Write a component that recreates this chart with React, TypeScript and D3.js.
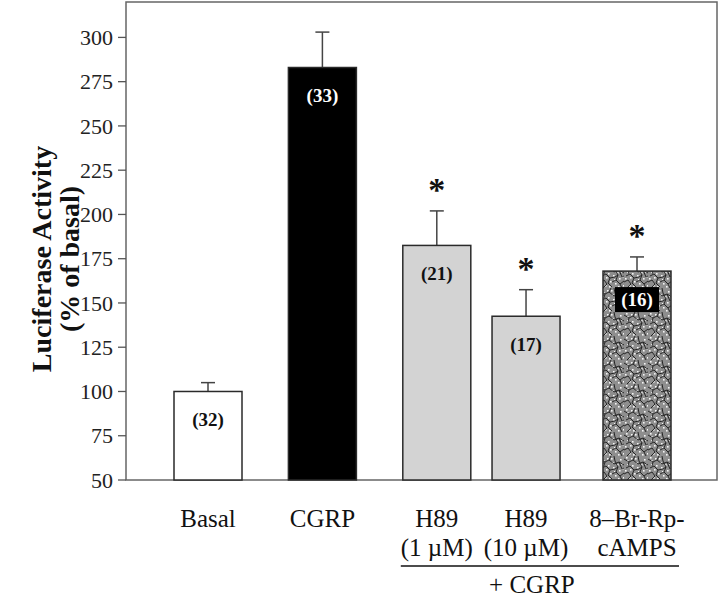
import React from 'react';
import * as d3 from 'd3';

// ---- data ----
const categoryLines: string[][] = [
  ['Basal'],
  ['CGRP'],
  ['H89', '(1 \u00B5M)'],
  ['H89', '(10 \u00B5M)'],
  ['8\u2013Br-Rp-', 'cAMPS'],
];
const means = [100, 283, 182.5, 142.5, 168];
const errors = [5, 20, 19.5, 15, 8];
const nCounts = [32, 33, 21, 17, 16];
const significant = [false, false, true, true, true];
const yTicks = [50, 75, 100, 125, 150, 175, 200, 225, 250, 275, 300];
const yLabelLines = ['Luciferase Activity', '(% of basal)'];
const groupLabel = '+ CGRP';
const groupMembers = [2, 3, 4];

// ---- layout ----
const W = 720;
const H = 597;
const slots = [0, 1, 2, 2.78, 3.75];
const fills = ['#ffffff', '#000000', '#d3d3d3', '#d3d3d3', 'url(#crackle)'];
const barW = 68;
const serif = '"Liberation Serif", "Times New Roman", Times, serif';

export default function App() {
  const y = d3.scaleLinear().domain([50, 320]).range([480, 2]);
  const x = d3.scaleLinear().domain([0, 3.75]).range([208, 637]);
  const left = 126;
  const right = 717;

  const crackPaths = [
    'M0,3 L5,6 L9,4 L14,8 L19,6 L24,9',
    'M2,12 L6,10 L10,14 L8,19 L12,23',
    'M14,0 L15,5 L18,11 L16,16 L20,20 L22,24',
    'M0,18 L4,16 L7,20 L3,24',
    'M10,14 L15,13 L18,11',
    'M20,20 L24,17',
    'M5,6 L4,10',
    'M16,16 L12,18',
    'M9,4 L11,0',
    'M19,6 L22,13 L24,12',
  ];
  const specks: [number, number][] = [
    [2, 1], [7, 2], [11, 2], [20, 3], [3, 8], [12, 6], [17, 8], [22, 12],
    [1, 14], [6, 13], [13, 11], [19, 14], [10, 17], [15, 19], [5, 21],
    [18, 22], [23, 21], [9, 22], [3, 4], [21, 7], [14, 15], [8, 9],
  ];

  const groupX0 = x(slots[groupMembers[0]]) - barW / 2 - 2;
  const groupX1 = x(slots[groupMembers[groupMembers.length - 1]]) + barW / 2 + 8;

  return (
    <svg
      width={W}
      height={H}
      style={{ position: 'absolute', left: 0, top: 0, background: '#fff' }}
      fontFamily={serif}
    >
      <defs>
        <pattern id="crackle" width={24} height={24} patternUnits="userSpaceOnUse">
          <rect width={24} height={24} fill="#8e8e8e" />
          {specks.map(([sx, sy], i) => (
            <rect key={i} x={sx} y={sy} width={1.6} height={1.6} fill="#f4f4f4" />
          ))}
          {crackPaths.map((d, i) => (
            <path key={i} d={d} fill="none" stroke="#1a1a1a" strokeWidth={0.9} />
          ))}
        </pattern>
      </defs>

      {/* frame */}
      <rect x={left} y={y(320)} width={right - left} height={y(50) - y(320)} fill="none" stroke="#666" strokeWidth={1.5} />

      {/* y ticks */}
      {yTicks.map((t) => (
        <g key={t}>
          <line x1={left - 8} x2={left} y1={y(t)} y2={y(t)} stroke="#555" strokeWidth={1.3} />
          <text x={left - 13} y={y(t)} dy="0.35em" textAnchor="end" fontSize={22} fill="#222">
            {t}
          </text>
        </g>
      ))}

      {/* y label */}
      <g transform={`translate(0, 259) rotate(-90)`}>
        {yLabelLines.map((l, i) => (
          <text key={l} x={0} y={51 + i * 28} textAnchor="middle" fontSize={28} fontWeight="bold" fill="#111">
            {l}
          </text>
        ))}
      </g>

      {/* bars */}
      {means.map((m, i) => {
        const cx = x(slots[i]);
        const top = y(m);
        const errTop = y(m + errors[i]);
        return (
          <g key={i}>
            <line x1={cx} x2={cx} y1={top} y2={errTop} stroke="#444" strokeWidth={1.5} />
            <line x1={cx - 7} x2={cx + 7} y1={errTop} y2={errTop} stroke="#444" strokeWidth={1.5} />
            <rect x={cx - barW / 2} y={top} width={barW} height={y(50) - top} fill={fills[i]} stroke="#2a2a2a" strokeWidth={1.5} />
            {i === 4 && (
              <rect x={cx - 22} y={top + 16} width={44} height={25} fill="#000" />
            )}
            <text
              x={cx}
              y={top + 28}
              dy="0.35em"
              textAnchor="middle"
              fontSize={19}
              fontWeight="bold"
              fill={i === 1 || i === 4 ? '#fff' : '#111'}
            >
              ({nCounts[i]})
            </text>
            {significant[i] && (
              <text x={cx} y={errTop - 10} textAnchor="middle" fontSize={34} fontWeight="bold" fill="#111">
                *
              </text>
            )}
            {categoryLines[i].map((l, j) => (
              <text key={j} x={cx} y={527 + j * 29} textAnchor="middle" fontSize={25} fill="#111">
                {l}
              </text>
            ))}
          </g>
        );
      })}

      {/* group underline */}
      <line x1={groupX0} x2={groupX1} y1={566} y2={566} stroke="#111" strokeWidth={1.5} />
      <text x={(groupX0 + groupX1) / 2 - 8} y={593} textAnchor="middle" fontSize={25} fill="#111">
        {groupLabel}
      </text>
    </svg>
  );
}
